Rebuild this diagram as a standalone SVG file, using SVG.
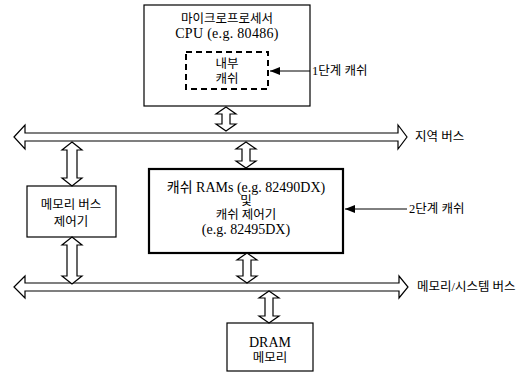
<svg xmlns="http://www.w3.org/2000/svg" width="524" height="375" viewBox="0 0 524 375">
<defs>
<marker id="ah" viewBox="0 0 10 8" refX="10" refY="4" markerWidth="10" markerHeight="8" markerUnits="userSpaceOnUse" orient="auto">
<path d="M0,0 L10,4 L0,8 Z" fill="#000"/>
</marker>
</defs>
<style>
text{font-family:"Liberation Serif","Noto Sans CJK KR",serif;font-size:14px;fill:#000;text-anchor:middle;dominant-baseline:central}
.ko{font-size:12.5px}
.lbl{text-anchor:start}
.box{fill:#fff;stroke:#000;stroke-width:1.2}
.thick{fill:#fff;stroke:#000;stroke-width:2.2}
.dash{fill:none;stroke:#000;stroke-width:2;stroke-dasharray:6 4}
.arr{fill:#fff;stroke:#000;stroke-width:1.2;stroke-linejoin:miter}
.ptr{fill:none;stroke:#000;stroke-width:1;marker-end:url(#ah)}
</style>
<rect width="524" height="375" fill="#fff"/>
<g id="cpu">
<rect class="box" x="144" y="5" width="166" height="101"/>
<text class="ko" x="227" y="19">마이크로프로세서</text>
<text x="227" y="33" letter-spacing="0.3">CPU (e.g. 80486)</text>
</g>
<g id="internal-cache">
<rect class="dash" x="186" y="52" width="82" height="37"/>
<text class="ko" x="227" y="64">내부</text>
<text class="ko" x="227" y="79">캐쉬</text>
</g>
<g id="l1-label">
<text class="lbl ko" x="312" y="71">1단계 캐쉬</text>
</g>
<g id="local-bus-label">
<text class="lbl ko" x="415" y="137">지역 버스</text>
</g>
<g id="mem-bus-ctrl">
<rect class="box" x="27" y="186" width="89" height="51"/>
<text class="ko" x="71" y="205">메모리 버스</text>
<text class="ko" x="71" y="222">제어기</text>
</g>
<g id="cache">
<rect class="thick" x="149" y="169" width="194" height="84"/>
<text x="246" y="187">캐쉬 RAMs (e.g. 82490DX)</text>
<text class="ko" x="246" y="201">및</text>
<text class="ko" x="246" y="215">캐쉬 제어기</text>
<text x="246" y="229">(e.g. 82495DX)</text>
</g>
<g id="l2-label">
<text class="lbl ko" x="409" y="209">2단계 캐쉬</text>
</g>
<g id="mem-bus-label">
<text class="lbl ko" x="417" y="287">메모리/시스템 버스</text>
</g>
<g id="dram">
<rect class="box" x="227" y="323" width="86" height="48"/>
<text x="270" y="342">DRAM</text>
<text class="ko" x="270" y="358">메모리</text>
</g>
<g id="connectors">
<polygon class="arr" points="14,137 25,125 25,133 398,133 398,125 407,137 398,149 398,141 25,141 25,149"/>
<polygon class="arr" points="14,287 25,276 25,283 399,283 399,276 408,287 399,298 399,291 25,291 25,298"/>
<polygon class="arr" points="226,107 236,114 230,114 230,124 236,124 226,131 216,124 222,124 222,114 216,114"/>
<polygon class="arr" points="246,142 256,149 250,149 250,161 256,161 246,168 236,161 242,161 242,149 236,149"/>
<polygon class="arr" points="72,142 82,150 77,150 77,178 82,178 72,186 62,178 67,178 67,150 62,150"/>
<polygon class="arr" points="72,237 82,245 77,245 77,276 82,276 72,284 62,276 67,276 67,245 62,245"/>
<polygon class="arr" points="247,253 257,260 251,260 251,276 257,276 247,283 237,276 243,276 243,260 237,260"/>
<polygon class="arr" points="269,291 279,298 273,298 273,316 279,316 269,323 259,316 265,316 265,298 259,298"/>
<line class="ptr" x1="310" y1="71" x2="270" y2="71"/>
<line class="ptr" x1="407" y1="209" x2="345" y2="209"/>
</g>
</svg>
